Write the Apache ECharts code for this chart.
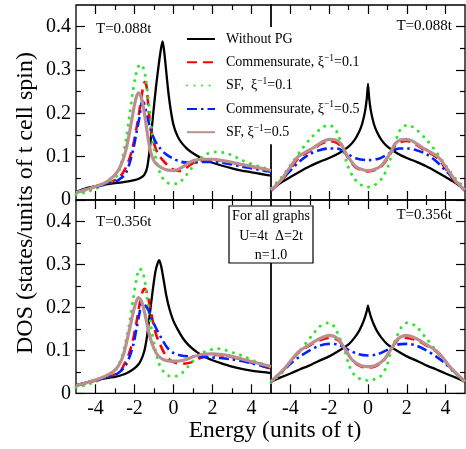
<!DOCTYPE html>
<html>
<head>
<meta charset="utf-8">
<script src="https://cdn.jsdelivr.net/npm/echarts@6/dist/echarts.min.js"></script>
<style>
  html, body { margin: 0; padding: 0; background: #fff; }
  #chart { width: 466px; height: 449px; }
</style>
</head>
<body>
<div id="chart"></div>
<script>
// Tick positions
const energyMajor = [-4, -2, 0, 2, 4];
const energyMinor = [-3, -1, 1, 3];
const dosMajor = [0, 0.1, 0.2, 0.3, 0.4];
const dosMinor = [0.05, 0.15, 0.25, 0.35];

const seriesNames = ['Without PG', 'Commensurate, ξ⁻¹=0.1', 'SF,  ξ⁻¹=0.1', 'Commensurate, ξ⁻¹=0.5', 'SF, ξ⁻¹=0.5'];
const panelTemps = ['T=0.088t', 'T=0.088t', 'T=0.356t', 'T=0.356t'];

// ---- Top-left panel, T = 0.088t ----
const tlWithoutPG = [[-5,0.019],[-4.5,0.027],[-4,0.032],[-3.5,0.036],[-3,0.039],[-2.5,0.042],[-2,0.046],[-1.7,0.051],[-1.5,0.058],[-1.35,0.075],[-1.2,0.125],[-1.05,0.195],[-0.9,0.26],[-0.75,0.315],[-0.63,0.352],[-0.55,0.366],[-0.47,0.34],[-0.38,0.3],[-0.28,0.255],[-0.15,0.21],[0,0.173],[0.2,0.148],[0.4,0.133],[0.7,0.118],[1,0.108],[1.5,0.095],[2,0.086],[2.5,0.079],[3,0.073],[3.5,0.068],[4,0.064],[4.5,0.06],[5,0.056]];
const tlComm01 = [[-5,0.017],[-4.5,0.024],[-4,0.031],[-3.5,0.038],[-3,0.046],[-2.7,0.056],[-2.5,0.07],[-2.3,0.09],[-2.1,0.12],[-1.9,0.165],[-1.75,0.205],[-1.6,0.25],[-1.47,0.273],[-1.38,0.262],[-1.28,0.21],[-1.15,0.16],[-1,0.13],[-0.8,0.107],[-0.55,0.092],[-0.3,0.08],[0,0.07],[0.25,0.067],[0.5,0.069],[0.8,0.079],[1.1,0.087],[1.5,0.091],[2,0.092],[2.5,0.09],[3,0.086],[3.5,0.081],[4,0.077],[4.5,0.072],[5,0.067]];
const tlSF01 = [[-5,0.013],[-4.5,0.018],[-4,0.026],[-3.5,0.036],[-3.1,0.046],[-2.85,0.06],[-2.65,0.09],[-2.45,0.135],[-2.27,0.19],[-2.1,0.245],[-1.92,0.29],[-1.72,0.313],[-1.55,0.305],[-1.42,0.28],[-1.25,0.215],[-1.07,0.145],[-0.9,0.094],[-0.65,0.058],[-0.4,0.042],[-0.1,0.037],[0.2,0.038],[0.5,0.049],[0.8,0.066],[1.05,0.08],[1.35,0.095],[1.7,0.106],[2.2,0.111],[2.7,0.108],[3.1,0.101],[3.5,0.092],[4,0.083],[4.5,0.076],[5,0.07]];
const tlComm05 = [[-5,0.018],[-4.5,0.024],[-4,0.03],[-3.5,0.036],[-3,0.042],[-2.7,0.05],[-2.45,0.062],[-2.25,0.085],[-2.05,0.12],[-1.9,0.155],[-1.75,0.19],[-1.6,0.228],[-1.5,0.222],[-1.35,0.192],[-1.15,0.16],[-0.95,0.137],[-0.7,0.12],[-0.4,0.106],[0,0.095],[0.4,0.088],[0.8,0.086],[1.2,0.087],[1.6,0.088],[2,0.088],[2.5,0.086],[3,0.082],[3.5,0.077],[4,0.073],[4.5,0.069],[5,0.065]];
const tlSF05 = [[-5,0.017],[-4.5,0.024],[-4,0.031],[-3.5,0.04],[-3.2,0.05],[-3,0.058],[-2.75,0.075],[-2.5,0.105],[-2.3,0.145],[-2.1,0.195],[-1.95,0.23],[-1.8,0.247],[-1.68,0.24],[-1.55,0.215],[-1.4,0.172],[-1.25,0.128],[-1.1,0.1],[-0.9,0.084],[-0.6,0.074],[-0.3,0.069],[0,0.068],[0.2,0.07],[0.5,0.077],[0.8,0.086],[1.1,0.092],[1.5,0.094],[2,0.094],[2.5,0.091],[3,0.087],[3.5,0.082],[4,0.078],[4.5,0.073],[5,0.068]];

// ---- Top-right panel, T = 0.088t ----
const trWithoutPG = [[-5,0.024],[-4.5,0.04],[-4,0.053],[-3.5,0.066],[-3,0.078],[-2.5,0.088],[-2,0.097],[-1.5,0.108],[-1,0.123],[-0.7,0.138],[-0.45,0.158],[-0.3,0.176],[-0.15,0.205],[-0.06,0.235],[0,0.268],[0.06,0.235],[0.15,0.205],[0.3,0.176],[0.45,0.158],[0.7,0.138],[1,0.123],[1.5,0.108],[2,0.097],[2.5,0.088],[3,0.078],[3.5,0.066],[4,0.053],[4.5,0.04],[5,0.024]];
const trComm01 = [[-5,0.022],[-4.5,0.042],[-4,0.072],[-3.6,0.096],[-3.2,0.108],[-2.8,0.118],[-2.4,0.13],[-2,0.136],[-1.7,0.134],[-1.4,0.125],[-1.2,0.11],[-1,0.095],[-0.7,0.078],[-0.35,0.069],[0,0.066],[0.35,0.069],[0.7,0.078],[1,0.095],[1.2,0.11],[1.4,0.125],[1.7,0.134],[2,0.136],[2.4,0.13],[2.8,0.118],[3.2,0.108],[3.6,0.096],[4,0.072],[4.5,0.042],[5,0.022]];
const trSF01 = [[-5,0.027],[-4.5,0.05],[-4,0.08],[-3.5,0.112],[-3,0.14],[-2.5,0.162],[-2.05,0.173],[-1.75,0.167],[-1.55,0.152],[-1.3,0.117],[-1.05,0.08],[-0.75,0.052],[-0.4,0.036],[0,0.03],[0.4,0.036],[0.75,0.052],[1.05,0.08],[1.3,0.117],[1.55,0.152],[1.75,0.167],[2.05,0.173],[2.5,0.162],[3,0.14],[3.5,0.112],[4,0.08],[4.5,0.05],[5,0.027]];
const trComm05 = [[-5,0.021],[-4.5,0.045],[-4,0.068],[-3.5,0.09],[-3,0.106],[-2.5,0.115],[-2,0.119],[-1.6,0.119],[-1.3,0.114],[-1,0.105],[-0.6,0.096],[0,0.092],[0.6,0.096],[1,0.105],[1.3,0.114],[1.6,0.119],[2,0.119],[2.5,0.115],[3,0.106],[3.5,0.09],[4,0.068],[4.5,0.045],[5,0.021]];
const trSF05 = [[-5,0.023],[-4.5,0.045],[-4,0.077],[-3.6,0.1],[-3.2,0.111],[-2.8,0.121],[-2.4,0.133],[-2,0.14],[-1.7,0.139],[-1.4,0.13],[-1.2,0.113],[-1,0.098],[-0.7,0.08],[-0.35,0.071],[0,0.068],[0.35,0.071],[0.7,0.08],[1,0.098],[1.2,0.113],[1.4,0.13],[1.7,0.139],[2,0.14],[2.4,0.133],[2.8,0.121],[3.2,0.111],[3.6,0.1],[4,0.077],[4.5,0.045],[5,0.023]];

// ---- Bottom-left panel, T = 0.356t ----
const blWithoutPG = [[-5,0.019],[-4.5,0.025],[-4,0.031],[-3.5,0.035],[-3,0.038],[-2.5,0.045],[-2.2,0.052],[-1.9,0.062],[-1.7,0.074],[-1.5,0.098],[-1.35,0.135],[-1.2,0.19],[-1.05,0.245],[-0.92,0.285],[-0.8,0.305],[-0.73,0.31],[-0.63,0.295],[-0.52,0.268],[-0.38,0.23],[-0.2,0.195],[0,0.168],[0.2,0.15],[0.5,0.127],[0.8,0.111],[1.2,0.096],[1.6,0.085],[2,0.077],[2.5,0.069],[3,0.062],[3.5,0.057],[4,0.053],[4.5,0.05],[5,0.047]];
const blComm01 = [[-5,0.018],[-4.5,0.023],[-4,0.03],[-3.5,0.037],[-3,0.044],[-2.7,0.053],[-2.5,0.07],[-2.3,0.09],[-2.1,0.12],[-1.9,0.165],[-1.75,0.205],[-1.6,0.235],[-1.47,0.243],[-1.35,0.232],[-1.2,0.2],[-1.05,0.165],[-0.9,0.138],[-0.7,0.115],[-0.45,0.092],[-0.2,0.078],[0.1,0.071],[0.5,0.069],[0.9,0.072],[1.3,0.081],[1.7,0.087],[2.2,0.089],[2.7,0.087],[3.3,0.081],[3.8,0.074],[4.3,0.067],[5,0.058]];
const blSF01 = [[-5,0.014],[-4.5,0.019],[-4,0.027],[-3.5,0.037],[-3.1,0.048],[-2.85,0.062],[-2.65,0.085],[-2.45,0.12],[-2.25,0.165],[-2.05,0.225],[-1.9,0.265],[-1.75,0.29],[-1.6,0.285],[-1.45,0.255],[-1.3,0.205],[-1.15,0.155],[-0.95,0.105],[-0.75,0.07],[-0.5,0.05],[-0.25,0.041],[0,0.039],[0.3,0.043],[0.55,0.052],[0.8,0.065],[1.05,0.078],[1.4,0.092],[1.8,0.1],[2.25,0.104],[2.7,0.1],[3.1,0.094],[3.6,0.086],[4.1,0.076],[4.6,0.068],[5,0.062]];
const blComm05 = [[-5,0.018],[-4.5,0.024],[-4,0.03],[-3.5,0.036],[-3,0.043],[-2.7,0.052],[-2.45,0.065],[-2.25,0.085],[-2.05,0.115],[-1.9,0.15],[-1.75,0.185],[-1.62,0.21],[-1.5,0.207],[-1.3,0.195],[-1.1,0.172],[-0.9,0.152],[-0.6,0.127],[-0.3,0.105],[0,0.094],[0.4,0.088],[0.8,0.086],[1.2,0.085],[1.8,0.084],[2.4,0.082],[3,0.079],[3.5,0.075],[4,0.07],[4.5,0.064],[5,0.058]];
const blSF05 = [[-5,0.018],[-4.5,0.024],[-4,0.031],[-3.5,0.04],[-3.1,0.05],[-2.85,0.062],[-2.6,0.085],[-2.4,0.12],[-2.2,0.16],[-2,0.2],[-1.8,0.223],[-1.65,0.215],[-1.5,0.192],[-1.35,0.16],[-1.2,0.13],[-1,0.104],[-0.8,0.088],[-0.5,0.078],[-0.2,0.075],[0.2,0.075],[0.6,0.078],[1,0.085],[1.5,0.091],[2,0.092],[2.5,0.09],[3,0.086],[3.5,0.08],[4,0.074],[4.5,0.068],[5,0.062]];

// ---- Bottom-right panel, T = 0.356t ----
const brWithoutPG = [[-5,0.027],[-4.5,0.037],[-4,0.046],[-3.5,0.056],[-3,0.065],[-2.5,0.076],[-2,0.086],[-1.5,0.099],[-1,0.114],[-0.7,0.129],[-0.45,0.146],[-0.3,0.16],[-0.15,0.178],[-0.06,0.192],[0,0.204],[0.06,0.192],[0.15,0.178],[0.3,0.16],[0.45,0.146],[0.7,0.129],[1,0.114],[1.5,0.099],[2,0.086],[2.5,0.076],[3,0.065],[3.5,0.056],[4,0.046],[4.5,0.037],[5,0.027]];
const brComm01 = [[-5,0.027],[-4.3,0.057],[-3.6,0.094],[-2.95,0.113],[-2.45,0.124],[-2,0.129],[-1.55,0.124],[-1.2,0.103],[-0.8,0.076],[-0.35,0.062],[0,0.06],[0.35,0.062],[0.8,0.076],[1.2,0.103],[1.55,0.124],[2,0.129],[2.45,0.124],[2.95,0.113],[3.6,0.094],[4.3,0.057],[5,0.027]];
const brSF01 = [[-5,0.025],[-4.5,0.045],[-4,0.07],[-3.5,0.1],[-2.95,0.131],[-2.45,0.157],[-2,0.164],[-1.75,0.156],[-1.5,0.133],[-1.2,0.1],[-0.95,0.062],[-0.65,0.04],[-0.3,0.032],[0,0.03],[0.3,0.032],[0.65,0.04],[0.95,0.062],[1.2,0.1],[1.5,0.133],[1.75,0.156],[2,0.164],[2.45,0.157],[2.95,0.131],[3.5,0.1],[4,0.07],[4.5,0.045],[5,0.025]];
const brComm05 = [[-5,0.027],[-4.5,0.048],[-4,0.069],[-3.5,0.086],[-3,0.1],[-2.5,0.111],[-2,0.115],[-1.5,0.113],[-1,0.101],[-0.5,0.091],[0,0.088],[0.5,0.091],[1,0.101],[1.5,0.113],[2,0.115],[2.5,0.111],[3,0.1],[3.5,0.086],[4,0.069],[4.5,0.048],[5,0.027]];
const brSF05 = [[-5,0.027],[-4.3,0.058],[-3.6,0.096],[-2.95,0.115],[-2.45,0.128],[-2,0.135],[-1.55,0.127],[-1.2,0.104],[-0.8,0.077],[-0.35,0.064],[0,0.062],[0.35,0.064],[0.8,0.077],[1.2,0.104],[1.55,0.127],[2,0.135],[2.45,0.128],[2.95,0.115],[3.6,0.096],[4.3,0.058],[5,0.027]];

const panelData = [
  [tlWithoutPG, tlComm01, tlSF01, tlComm05, tlSF05],
  [trWithoutPG, trComm01, trSF01, trComm05, trSF05],
  [blWithoutPG, blComm01, blSF01, blComm05, blSF05],
  [brWithoutPG, brComm01, brSF01, brComm05, brSF05]
];

const FONT = '"Liberation Serif", "Times New Roman", serif';

// Line appearance for each curve family
const curveStyles = [
  { color: '#000000', width: 2.3, type: 'solid' },
  { color: '#ff0000', width: 2.6, type: [10, 6] },
  { color: '#2ee62e', width: 3.0, type: [0.1, 7.4], cap: 'round' },
  { color: '#0022ff', width: 2.6, type: [10, 4, 2.5, 4] },
  { color: '#bc8f8f', width: 3.2, type: 'solid' }
];

// Panel rectangles: [top-left, top-right, bottom-left, bottom-right]
const grids = [
  { left: 76, top: 5, width: 195, height: 195 },
  { left: 271, top: 5, width: 194, height: 195 },
  { left: 76, top: 200, width: 195, height: 193.3 },
  { left: 271, top: 200, width: 194, height: 193.3 }
].map(g => Object.assign(g, { show: true, borderColor: '#000', borderWidth: 1.3, backgroundColor: 'transparent' }));

const tickLine = { color: '#000', width: 1.2 };

function energyAxis(gi, position, ticks, len, withLabels) {
  return {
    type: 'value', gridIndex: gi, position: position, min: -5, max: 5,
    axisLine: { show: false, onZero: false }, splitLine: { show: false },
    axisTick: { show: true, inside: true, length: len, customValues: ticks, lineStyle: tickLine },
    axisLabel: withLabels ? {
      show: true, customValues: energyMajor, margin: 5,
      fontFamily: FONT, fontSize: 20, color: '#000'
    } : { show: false }
  };
}

function dosAxis(gi, position, ticks, len, withLabels) {
  return {
    type: 'value', gridIndex: gi, position: position, min: 0, max: 0.45,
    axisLine: { show: false, onZero: false }, splitLine: { show: false },
    axisTick: { show: true, inside: true, length: len, customValues: ticks, lineStyle: tickLine },
    axisLabel: withLabels ? {
      show: true, customValues: dosMajor, margin: 5,
      fontFamily: FONT, fontSize: 20, color: '#000',
      formatter: v => (v === 0 ? '0' : v.toFixed(1))
    } : { show: false }
  };
}

const xAxes = [];
const yAxes = [];
const series = [];
for (let gi = 0; gi < 4; gi++) {
  const isBottom = gi >= 2;
  const isLeft = gi % 2 === 0;
  const xBase = xAxes.length;
  xAxes.push(energyAxis(gi, 'bottom', energyMajor, 9, isBottom));
  xAxes.push(energyAxis(gi, 'bottom', energyMinor, 5, false));
  xAxes.push(energyAxis(gi, 'top', energyMajor, 9, false));
  xAxes.push(energyAxis(gi, 'top', energyMinor, 5, false));
  const yBase = yAxes.length;
  const side = isLeft ? 'left' : 'right';
  yAxes.push(dosAxis(gi, side, dosMajor, 9, isLeft));
  yAxes.push(dosAxis(gi, side, dosMinor, 5, false));

  panelData[gi].forEach((pts, si) => {
    const st = curveStyles[si];
    series.push({
      name: seriesNames[si], type: 'line', xAxisIndex: xBase, yAxisIndex: yBase,
      data: pts, symbol: 'none', smooth: si === 0 ? 0.15 : 0.3, z: 5,
      lineStyle: { color: st.color, width: st.width, type: st.type, cap: st.cap || 'butt' },
      itemStyle: { color: st.color }
    });
  });
}

function legendLabel(name) {
  const parts = name.split('⁻¹');
  if (parts.length < 2) return '{g|}{t|' + name + '}';
  return '{g|}{t|' + parts[0] + '}{s|−1}{t|' + parts[1] + '}';
}

const txt = (s, x, y, size, align) => ({
  type: 'text', x: x, y: y, z: 100,
  style: { text: s, font: size + 'px ' + FONT, fill: '#000', align: align, textAlign: align, verticalAlign: 'middle', textVerticalAlign: 'middle' }
});

const chart = echarts.init(document.getElementById('chart'), null, { renderer: 'canvas' });
chart.setOption({
  animation: false,
  backgroundColor: '#fff',
  grid: grids,
  xAxis: xAxes,
  yAxis: yAxes,
  series: series,
  legend: {
    data: seriesNames, orient: 'vertical', left: 181, top: 27,
    padding: [5, 6, 5, 5], itemGap: 7.3, itemWidth: 28, itemHeight: 14,
    backgroundColor: '#fff', selectedMode: false,
    itemStyle: { opacity: 0 },
    formatter: legendLabel,
    textStyle: {
      fontFamily: FONT, fontSize: 14, color: '#000',
      rich: {
        g: { width: 6 },
        t: { fontFamily: FONT, fontSize: 14, color: '#000', lineHeight: 18 },
        s: { fontFamily: FONT, fontSize: 9.5, color: '#000', lineHeight: 11, verticalAlign: 'top' }
      }
    }
  },
  graphic: [
    txt(panelTemps[0], 96, 29, 15, 'left'),
    txt(panelTemps[1], 452, 26, 15, 'right'),
    txt(panelTemps[2], 96, 222, 15, 'left'),
    txt(panelTemps[3], 452, 215, 15, 'right'),
    {
      type: 'rect', z: 99,
      shape: { x: 229, y: 206, width: 84, height: 57 },
      style: { fill: '#fff', stroke: '#000', lineWidth: 1.2 }
    },
    txt('For all graphs', 271, 216, 14, 'center'),
    txt('U=4t  Δ=2t', 271, 236, 14, 'center'),
    txt('n=1.0', 271, 255, 14, 'center'),
    txt('Energy (units of t)', 275, 431, 23.5, 'center'),
    {
      type: 'text', x: 26, y: 203, rotation: Math.PI / 2, z: 100,
      style: { text: 'DOS (states/units of t cell spin)', font: '24px ' + FONT, fill: '#000', align: 'center', textAlign: 'center', verticalAlign: 'middle', textVerticalAlign: 'middle' }
    }
  ]
});
</script>
</body>
</html>
